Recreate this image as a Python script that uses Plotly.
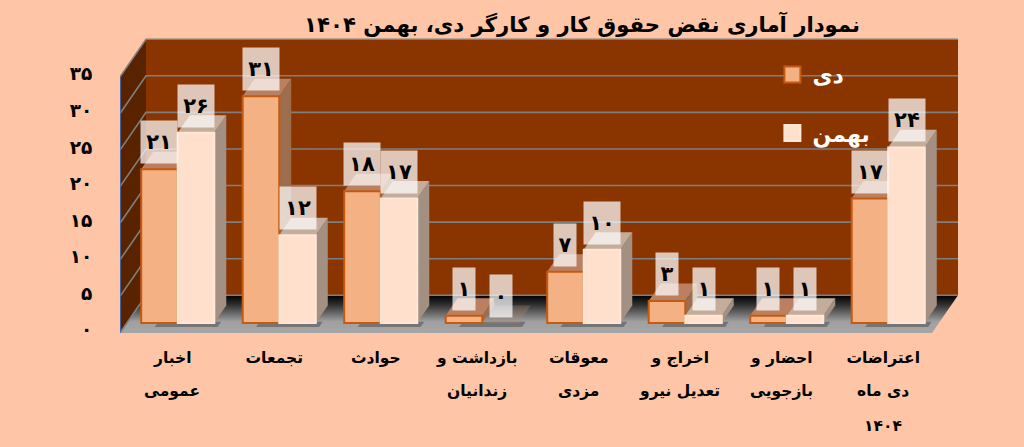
import plotly.graph_objects as go

categories = [
    ["اخبار", "عمومی"],
    ["تجمعات"],
    ["حوادث"],
    ["بازداشت و", "زندانیان"],
    ["معوقات", "مزدی"],
    ["اخراج و", "تعدیل نیرو"],
    ["احضار و", "بازجویی"],
    ["اعتراضات", "دی ماه", "۱۴۰۴"],
]
dey = [21, 31, 18, 1, 7, 3, 1, 17]
bahman = [26, 12, 17, 0, 10, 1, 1, 24]
y_ticks = [0, 5, 10, 15, 20, 25, 30, 35]
y_tick_text = ["۰", "۵", "۱۰", "۱۵", "۲۰", "۲۵", "۳۰", "۳۵"]
title_text = "نمودار آماری نقض حقوق کار و کارگر دی، بهمن ۱۴۰۴"

digits = "۰۱۲۳۴۵۶۷۸۹"
def fa(n):
    return "".join(digits[int(c)] for c in str(n))

BG = "#FEC6A6"
WALL = "#8A3500"
SIDE_WALL = "#5A2300"
GRID = "#7F7F7F"
FONT = "DejaVu Sans"
PX_CAT = 101.5
PX_VAL = 7.31
FIG_W, FIG_H = 1024, 447
LEFT, BOTTOM = 120, 114.3
n_cat = len(categories)
DX, DY = 26 / PX_CAT, 37.7 / PX_VAL     # full chart depth in axis units
BAR_D0, BAR_D1 = 0.265, 0.73            # bar depth, front and back, as share of chart depth
BAR_W = 0.36
SHIFT = 0.069
x_rng = [-0.5, -0.5 + (FIG_W - LEFT) / PX_CAT]
y_rng = [0, (FIG_H - BOTTOM) / PX_VAL]
x_left, x_right = -0.5, -0.5 + n_cat
y_top = y_ticks[-1]


def P(x, v, d):
    return x + d * DX, v + d * DY


def poly(points, color, **kw):
    xs = [p[0] for p in points] + [points[0][0]]
    ys = [p[1] for p in points] + [points[0][1]]
    return go.Scatter(x=xs, y=ys, mode="lines", fill="toself", fillcolor=color,
                      line=dict(width=0), hoverinfo="skip", showlegend=False, **kw)


fig = go.Figure()

# back wall, side wall, floor
fig.add_trace(poly([P(x_left, 0, 1), P(x_right, 0, 1), P(x_right, y_top, 1), P(x_left, y_top, 1)], WALL))
fig.add_trace(poly([P(x_left, 0, 0), P(x_left, 0, 1), P(x_left, y_top, 1), P(x_left, y_top, 0)], SIDE_WALL))
floor_pts = [P(x_left, 0, 0), P(x_right, 0, 0), P(x_right, 0, 1), P(x_left, 0, 1)]
fig.add_trace(go.Scatter(
    x=[p[0] for p in floor_pts] + [floor_pts[0][0]],
    y=[p[1] for p in floor_pts] + [floor_pts[0][1]],
    mode="lines", fill="toself", line=dict(width=0), hoverinfo="skip", showlegend=False,
    fillgradient=dict(type="vertical",
                      colorscale=[[0, "#A6A6A6"], [0.3, "#A0A0A0"], [0.75, "#303030"], [1, "#000000"]]),
))

# grid lines on the walls
gx, gy = [], []
for t in y_ticks:
    pts = [P(x_left, t, 0), P(x_left, t, 1), P(x_right, t, 1)]
    gx += [p[0] for p in pts] + [None]
    gy += [p[1] for p in pts] + [None]
fig.add_trace(go.Scatter(x=gx, y=gy, mode="lines", line=dict(color=GRID, width=1.6),
                         hoverinfo="skip", showlegend=False))
# blue front edge of the value axis
fig.add_trace(go.Scatter(x=[x_left, x_left], y=[0, y_top], mode="lines",
                         line=dict(color="#4472C4", width=1.6), hoverinfo="skip", showlegend=False))

# soft shadows of the bar groups on the floor
for i in range(n_cat):
    fig.add_trace(poly([P(i - 0.2, 0, 0.16), P(i + 0.42, 0, 0.16), P(i + 0.42, 0, 0.3), P(i - 0.2, 0, 0.3)],
                       "rgba(0,0,0,0.28)"))

# side and top faces
series = [
    ("دی", dey, SHIFT - BAR_W, "#F4B183", "#C55A11", "#9C6E4E", "#BB8060"),
    ("بهمن", bahman, SHIFT, "#FFE0CC", "#FFE6D6", "#A39082", "#C5AD9B"),
]
for i in range(n_cat):
    for name, vals, off, front, edge, side, top in series:
        v = vals[i]
        xa, xb = i + off, i + off + BAR_W
        if v > 0:
            fig.add_trace(poly([P(xb - SHIFT, 0, BAR_D0), P(xb - SHIFT, 0, BAR_D1),
                                P(xb - SHIFT, v, BAR_D1), P(xb - SHIFT, v, BAR_D0)], side))
        top_col = top if v > 0 else "rgba(170,140,120,0.3)"
        fig.add_trace(poly([P(xa - SHIFT, v, BAR_D0), P(xb - SHIFT, v, BAR_D0),
                            P(xb - SHIFT, v, BAR_D1), P(xa - SHIFT, v, BAR_D1)], top_col))

# front faces: real bars on an overlaid subplot
base = BAR_D0 * DY
xs = list(range(n_cat))
for name, vals, off, front, edge, side, top in series:
    fig.add_trace(go.Bar(
        x=xs, y=vals, base=base, width=BAR_W, offset=off, xaxis="x2", yaxis="y2",
        marker=dict(color=front, line=dict(color=edge, width=[2 if v > 0 else 0 for v in vals])),
        name=name, showlegend=False, hoverinfo="x+y",
    ))

# legend entries
for name, vals, off, front, edge, side, top in series:
    fig.add_trace(go.Scatter(
        x=[None], y=[None], mode="markers", name=name, legendgroup=name, xaxis="x2", yaxis="y2",
        marker=dict(symbol="square", size=16, color=front, line=dict(color=edge, width=2)),
    ))

# value labels
ann = []
for name, vals, off, *_ in series:
    for i, v in enumerate(vals):
        ann.append(dict(
            x=i + off + BAR_W / 2, y=v + base, xref="x", yref="y", text=fa(v), showarrow=False,
            xanchor="center", yanchor="middle", yshift=27, width=34 if v > 9 else 20, height=40,
            bgcolor="rgba(255,255,255,0.72)", font=dict(family=FONT, size=21, color="black", weight="bold"),
        ))
# continuation lines of the category labels
for i, parts in enumerate(categories):
    for k, part in enumerate(parts[1:], start=1):
        ann.append(dict(
            x=i, y=0, xref="x", yref="paper", text=part, showarrow=False, xanchor="center",
            yanchor="middle", yshift=-22 - 35.5 * k, xshift=1.5,
            font=dict(family=FONT, size=15.5, color="black", weight="bold"),
        ))

fig.update_layout(
    width=FIG_W, height=FIG_H, autosize=False,
    margin=dict(l=LEFT, r=0, t=0, b=BOTTOM, pad=0),
    paper_bgcolor=BG, plot_bgcolor=BG, barmode="overlay",
    title=dict(text=title_text, x=860 / FIG_W, xanchor="right", xref="container",
               y=1 - 25 / FIG_H, yanchor="middle", yref="container",
               font=dict(family=FONT, size=21.2, color="black", weight="bold")),
    xaxis=dict(range=x_rng, tickmode="array", tickvals=xs, ticktext=[c[0] for c in categories],
               showgrid=False, zeroline=False, showline=False, ticks="outside", ticklen=10,
               tickcolor="rgba(0,0,0,0)", tickangle=0, ticklabelshift=2,
               tickfont=dict(family=FONT, size=15.5, color="black", weight="bold")),
    yaxis=dict(range=y_rng, tickmode="array", tickvals=y_ticks, ticktext=y_tick_text,
               showgrid=False, zeroline=False, showline=False, ticks="outside", ticklen=23,
               tickcolor="rgba(0,0,0,0)", ticklabelshift=-3,
               tickfont=dict(family=FONT, size=18.5, color="black", weight="bold")),
    xaxis2=dict(range=x_rng, overlaying="x", visible=False),
    yaxis2=dict(range=y_rng, overlaying="y", visible=False),
    legend=dict(x=739 / FIG_W, y=1 - 72 / FIG_H, xanchor="left", yanchor="top",
                bgcolor="rgba(0,0,0,0)", tracegroupgap=27,
                font=dict(family=FONT, size=22, color="white", weight="bold")),
    showlegend=True,
    annotations=ann,
)
fig.write_html("out.html", config={"displayModeBar": False},
               post_script="document.body.style.margin='0';document.body.style.background='" + BG + "';")
